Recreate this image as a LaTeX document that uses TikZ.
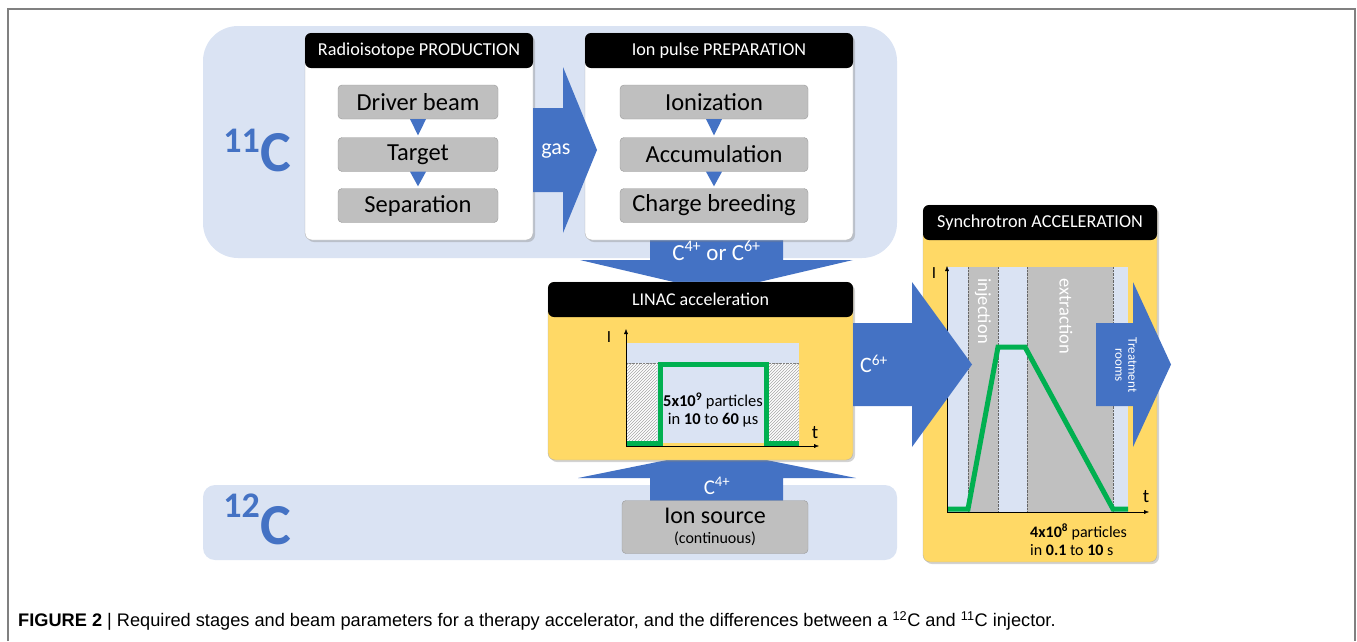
\documentclass[tikz,border=0pt]{standalone}
\usepackage{fontspec}
\setmainfont{Carlito}
\newfontfamily\capfont{Liberation Sans}
\usetikzlibrary{shadows,patterns,arrows.meta}

\definecolor{arrowblue}{HTML}{4472C4}
\definecolor{panelblue}{HTML}{DAE3F3}
\definecolor{boxgray}{HTML}{BFBFBF}
\definecolor{boxline}{HTML}{9A9A9A}
\definecolor{stageyellow}{HTML}{FFD966}
\definecolor{pulsegreen}{HTML}{00B050}
\definecolor{phasegray}{HTML}{C0C0C0}

\newcommand\fsz[1]{\fontsize{#1}{#1}\selectfont}

\tikzset{
	panel/.style={fill=panelblue, inner sep=0pt},
	stagebody/.style={draw=gray!60, rounded corners=7pt, inner sep=0pt,
			drop shadow={opacity=0.35, shadow xshift=2pt, shadow yshift=-2pt}},
	header/.style={fill=black, rounded corners=6pt, text=white, inner sep=0pt,
			minimum height=35pt, font=\fsz{18.2}},
	stepbox/.style={fill=boxgray, draw=boxline, rounded corners=4pt, inner sep=0pt,
			minimum height=34pt, font=\fsz{24.5}},
	blockarrow/.style={fill=arrowblue},
	pulse/.style={pulsegreen, line width=5pt},
	axis/.style={-{Latex[length=5pt,width=4pt]}, thin},
}

\begin{document}
\begin{tikzpicture}[x=1pt,y=-1pt]
	\useasboundingbox (0,0) rectangle (1357,641);
	\draw[gray, line width=2pt] (8,641) -- (8,9) -- (1355,9) -- (1355,641);

	% isotope panels
	\node[panel, rounded corners=35pt, minimum width=694pt, minimum height=232pt] (panel11) at (550,142) {};
	\node[panel, rounded corners=12pt, minimum width=694pt, minimum height=75pt] (panel12) at (550,522.5) {};
	\node[anchor=base east, inner sep=0pt, text=arrowblue, font=\fsz{36}\bfseries] (sup11) at (260,152) {11};
	\node[anchor=base west, inner sep=0pt, text=arrowblue, font=\fsz{58}\bfseries] (iso11) at (260,171) {C};
	\node[anchor=base east, inner sep=0pt, text=arrowblue, font=\fsz{36}\bfseries] (sup12) at (260,517) {12};
	\node[anchor=base west, inner sep=0pt, text=arrowblue, font=\fsz{58}\bfseries] (iso12) at (260,544) {C};

	% arrows into the LINAC
	\fill[blockarrow] (650,232) -- (650,260) -- (580,260) -- (716.5,292) -- (853,260) -- (783,260) -- (783,232) -- cycle;
	\fill[blockarrow] (650,505) -- (650,478) -- (578,478) -- (716.5,450) -- (856,478) -- (783,478) -- (783,505) -- cycle;

	% Radioisotope production
	\node[stagebody, fill=white, minimum width=228pt, minimum height=207pt] (prod) at (419,136.5) {};
	\node[header, minimum width=228pt] (prodhead) at (419,50.5) {Radioisotope PRODUCTION};
	\node[stepbox, minimum width=160pt] (driver) at (418,102) {Driver beam};
	\node[stepbox, minimum width=160pt] (target) at (418,154.5) {Target};
	\node[stepbox, minimum width=160pt] (separation) at (418,205.5) {Separation};

	% Ion pulse preparation
	\node[stagebody, fill=white, minimum width=268pt, minimum height=207pt] (prep) at (719,136.5) {};
	\node[header, minimum width=268pt] (prephead) at (719,50.5) {Ion pulse PREPARATION};
	\node[stepbox, minimum width=188pt] (ionize) at (714,102) {Ionization};
	\node[stepbox, minimum width=188pt] (accum) at (714,154.5) {Accumulation};
	\node[stepbox, minimum width=188pt] (breed) at (714,205.5) {Charge breeding};

	\foreach \a/\b in {driver/target, target/separation, ionize/accum, accum/breed}
		\fill[arrowblue] ([xshift=-8pt]\a.south) -- ([xshift=8pt]\a.south) -- ([yshift=2pt]\b.north) -- cycle;

	% gas transfer
	\fill[blockarrow] (533,108) -- (563,108) -- (563,67) -- (597,150) -- (563,233) -- (563,192) -- (533,192) -- cycle;
	\node[text=white, font=\fsz{22}] (gas) at (556,151) {gas};
	\node[text=white, font=\fsz{23}] (charge) at (716.5,251) {C\textsuperscript{4+} or C\textsuperscript{6+}};

	% LINAC
	\node[stagebody, fill=stageyellow, minimum width=305pt, minimum height=178pt] (linac) at (700.5,371) {};
	\node[header, minimum width=305pt, font=\fsz{18}] (linachead) at (700.5,299.5) {LINAC acceleration};
	\fill[panelblue] (626,343) rectangle (799,443);
	\fill[white] (626,363) rectangle (657,443) (769,363) rectangle (799,443);
	\fill[pattern=north east lines, pattern color=gray!70] (626,363) rectangle (657,443) (769,363) rectangle (799,443);
	\draw[gray, densely dotted] (626,363) -- (799,363);
	\draw[pulse] (626,443) -- (660,443) -- (660,364) -- (766,364) -- (766,443) -- (799,443);
	\draw[axis] (626,446) -- (626,329);
	\draw[axis] (626,446) -- (819,446);
	\node[font=\fsz{17}] (linacI) at (609,337) {I};
	\node[font=\fsz{19}] (linact) at (815,433) {t};
	\node[font=\fsz{16.5}, align=center, inner sep=0pt] (linacnum) at (713,410)
		{\textbf{5x10\textsuperscript{9}} particles\\[2pt]in \textbf{10} to \textbf{60} µs};

	% ion source
	\node[stepbox, minimum width=186pt, minimum height=53pt, align=center, font=\fsz{24}] (ionsrc) at (715,527)
		{Ion source\\[-4pt]{\fsz{16}(continuous)}};
	\node[text=white, font=\fsz{21}] (c4) at (717,486) {C\textsuperscript{4+}};

	% Synchrotron
	\node[stagebody, fill=stageyellow, minimum width=234pt, minimum height=357pt] (synchro) at (1040,383.5) {};
	\node[header, minimum width=234pt] (synchrohead) at (1040,222.5) {Synchrotron ACCELERATION};
	\fill[panelblue] (947,267) rectangle (1128,512);
	\fill[phasegray] (968,267) rectangle (998,512) (1027,267) rectangle (1113,512);
	\foreach \x in {968,998,1027,1113}
		\draw[gray!80!black, densely dotted] (\x,267) -- (\x,512);
	\node[rotate=-90, anchor=west, text=white, font=\fsz{18.5}] (inject) at (983,275) {injection};
	\node[rotate=-90, anchor=west, text=white, font=\fsz{18.5}] (extract) at (1066,275) {extraction};
	\draw[pulse] (947,509) -- (968,509) -- (998,347) -- (1025,347) -- (1113,509) -- (1128,509);
	\draw[axis] (947,512) -- (947,266);
	\draw[axis] (947,512) -- (1149,512);
	\node[font=\fsz{17}] (synchroI) at (934,273) {I};
	\node[font=\fsz{19}] (synchrot) at (1146,497) {t};
	\node[anchor=west, font=\fsz{16}, align=left, inner sep=0pt] (synchronum) at (1030,540)
		{\textbf{4x10\textsuperscript{8}} particles\\[2pt]in \textbf{0.1} to \textbf{10} s};

	% beam to synchrotron and to treatment rooms
	\fill[blockarrow] (853,323) -- (912,323) -- (912,282) -- (972,364.5) -- (912,447) -- (912,406) -- (853,406) -- cycle;
	\node[text=white, font=\fsz{22}] (c6) at (874,364) {C\textsuperscript{6+}};
	\fill[blockarrow] (1096,323) -- (1133,323) -- (1133,282) -- (1171,364.5) -- (1133,447) -- (1133,406) -- (1096,406) -- cycle;
	\node[rotate=-90, text=white, font=\fsz{13}, align=center, inner sep=0pt] (rooms) at (1126,365) {Treatment\\rooms};

	% caption
	\node[anchor=west, inner sep=0pt, font=\capfont\fsz{18.2}] (caption) at (18,621)
		{\textbf{FIGURE 2} | Required stages and beam parameters for a therapy accelerator, and the differences between a \textsuperscript{12}C and \textsuperscript{11}C injector.};
\end{tikzpicture}
\end{document}
